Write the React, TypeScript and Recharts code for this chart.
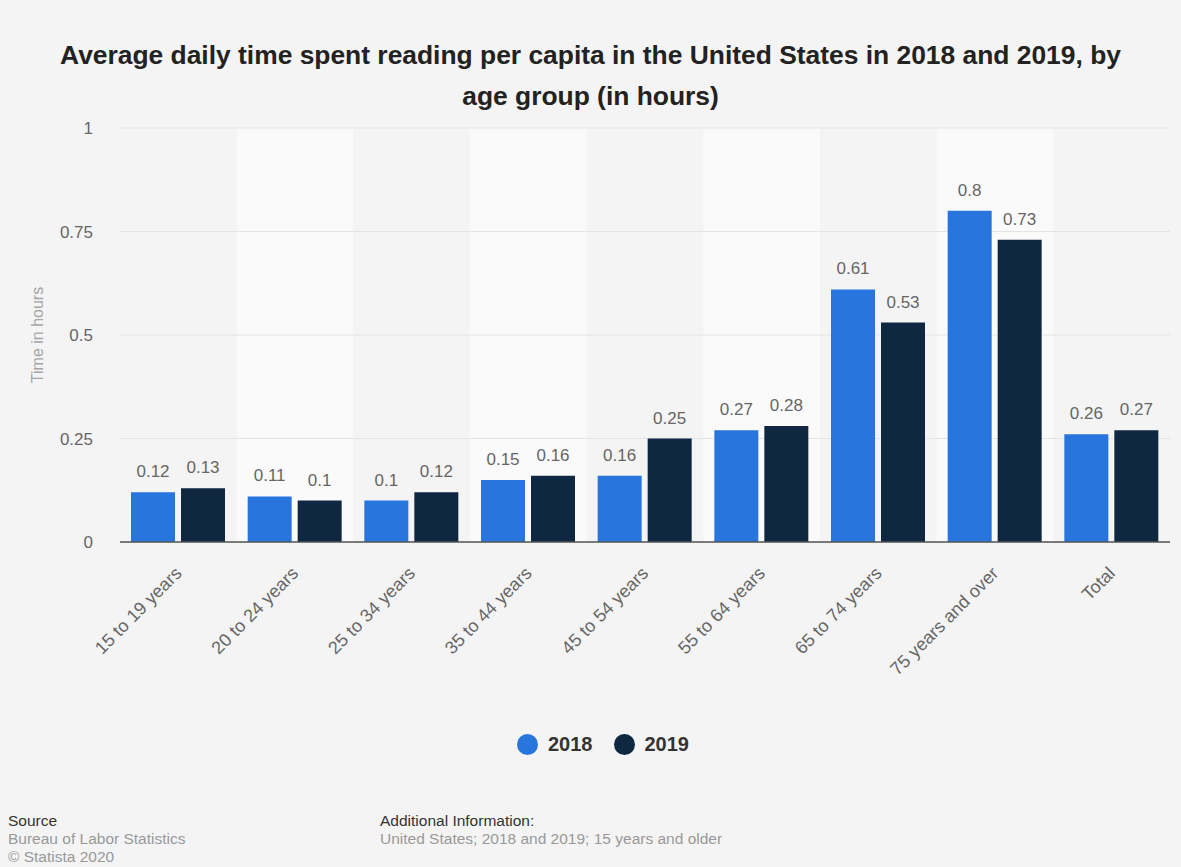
import React from 'react'
import {
  BarChart,
  Bar,
  XAxis,
  YAxis,
  CartesianGrid,
  Legend,
  LabelList,
  ReferenceArea,
} from 'recharts'

const categories = [
  '15 to 19 years',
  '20 to 24 years',
  '25 to 34 years',
  '35 to 44 years',
  '45 to 54 years',
  '55 to 64 years',
  '65 to 74 years',
  '75 years and over',
  'Total',
]
const values2018 = [0.12, 0.11, 0.1, 0.15, 0.16, 0.27, 0.61, 0.8, 0.26]
const values2019 = [0.13, 0.1, 0.12, 0.16, 0.25, 0.28, 0.53, 0.73, 0.27]
const yTicks = [0, 0.25, 0.5, 0.75, 1]

const BLUE = '#2876dd'
const NAVY = '#0f2740'
const FONT = '"Liberation Sans", Arial, Helvetica, sans-serif'

const data = categories.map((name, i) => ({
  name,
  y2018: values2018[i],
  y2019: values2019[i],
}))

// every second category gets the lighter stripe
const bandCategories = categories.filter((_, i) => i % 2 === 1)

function AngledTick({ x, y, payload }: any) {
  return (
    <g transform={`translate(${x},${y + 20})`}>
      <text
        transform="rotate(-45)"
        textAnchor="end"
        dy="0.35em"
        fill="#666"
        fontSize={18}
        fontFamily={FONT}
      >
        {payload.value}
      </text>
    </g>
  )
}

function YLabel({ viewBox }: any) {
  const cx = viewBox.x + 37
  const cy = viewBox.y + viewBox.height / 2
  return (
    <text
      x={cx}
      y={cy}
      transform={`rotate(-90, ${cx}, ${cy})`}
      textAnchor="middle"
      dominantBaseline="central"
      fill="#a6a6a6"
      fontSize={16}
      fontFamily={FONT}
    >
      Time in hours
    </text>
  )
}

function LegendContent() {
  const items = [
    { label: '2018', color: BLUE },
    { label: '2019', color: NAVY },
  ]
  return (
    <div style={{ display: 'flex', justifyContent: 'center', paddingLeft: 46 }}>
      {items.map((it) => (
        <div key={it.label} style={{ display: 'flex', alignItems: 'center', marginRight: 21 }}>
          <span
            style={{
              display: 'inline-block',
              width: 21,
              height: 21,
              borderRadius: '50%',
              background: it.color,
              marginRight: 10,
            }}
          />
          <span style={{ fontFamily: FONT, fontWeight: 700, fontSize: 20, color: '#333' }}>
            {it.label}
          </span>
        </div>
      ))}
    </div>
  )
}

export default function App() {
  return (
    <div
      style={{
        position: 'relative',
        width: 1181,
        height: 867,
        background: '#f4f4f4',
        fontFamily: FONT,
        overflow: 'hidden',
      }}
    >
      <style>{'body{margin:0}'}</style>
      <div
        style={{
          position: 'absolute',
          top: 35,
          left: 0,
          width: 1181,
          textAlign: 'center',
          fontSize: 26.4,
          fontWeight: 700,
          lineHeight: '41px',
          color: '#222',
        }}
      >
        Average daily time spent reading per capita in the United States in 2018 and 2019, by
        <br />
        age group (in hours)
      </div>

      <div style={{ position: 'absolute', top: 0, left: 0 }}>
        <BarChart
          width={1181}
          height={867}
          data={data}
          margin={{ top: 128, right: 11, bottom: 175, left: 0 }}
          barCategoryGap={11}
          barGap={6}
        >
          {bandCategories.map((c) => (
            <ReferenceArea
              key={c}
              x1={c}
              x2={c}
              fill="#fafafa"
              fillOpacity={1}
              stroke="none"
              zIndex={-200}
            />
          ))}
          <CartesianGrid vertical={false} stroke="#e4e4e4" />
          <XAxis
            dataKey="name"
            interval={0}
            height={150}
            tickLine={false}
            axisLine={{ stroke: '#555', strokeWidth: 1.5 }}
            tick={<AngledTick />}
          />
          <YAxis
            width={120}
            domain={[0, 1]}
            ticks={yTicks}
            axisLine={false}
            tickLine={false}
            tickMargin={21}
            tick={{ fill: '#666', fontSize: 17, fontFamily: FONT }}
            label={<YLabel />}
          />
          <Legend
            layout="horizontal"
            verticalAlign="middle"
            align="center"
            wrapperStyle={{ top: 733, left: 0, width: 1181 }}
            content={<LegendContent />}
          />
          <Bar dataKey="y2018" name="2018" fill={BLUE} isAnimationActive={false}>
            <LabelList dataKey="y2018" position="top" offset={15} fill="#666" fontSize={17} fontFamily={FONT} />
          </Bar>
          <Bar dataKey="y2019" name="2019" fill={NAVY} isAnimationActive={false}>
            <LabelList dataKey="y2019" position="top" offset={15} fill="#666" fontSize={17} fontFamily={FONT} />
          </Bar>
        </BarChart>
      </div>

      <div style={{ position: 'absolute', left: 8, top: 812, fontSize: 15.5, lineHeight: '18px' }}>
        <div style={{ color: '#333' }}>Source</div>
        <div style={{ color: '#999' }}>Bureau of Labor Statistics</div>
        <div style={{ color: '#999' }}>© Statista 2020</div>
      </div>
      <div style={{ position: 'absolute', left: 380, top: 812, fontSize: 15.5, lineHeight: '18px' }}>
        <div style={{ color: '#333' }}>Additional Information:</div>
        <div style={{ color: '#999' }}>United States; 2018 and 2019; 15 years and older</div>
      </div>
    </div>
  )
}
